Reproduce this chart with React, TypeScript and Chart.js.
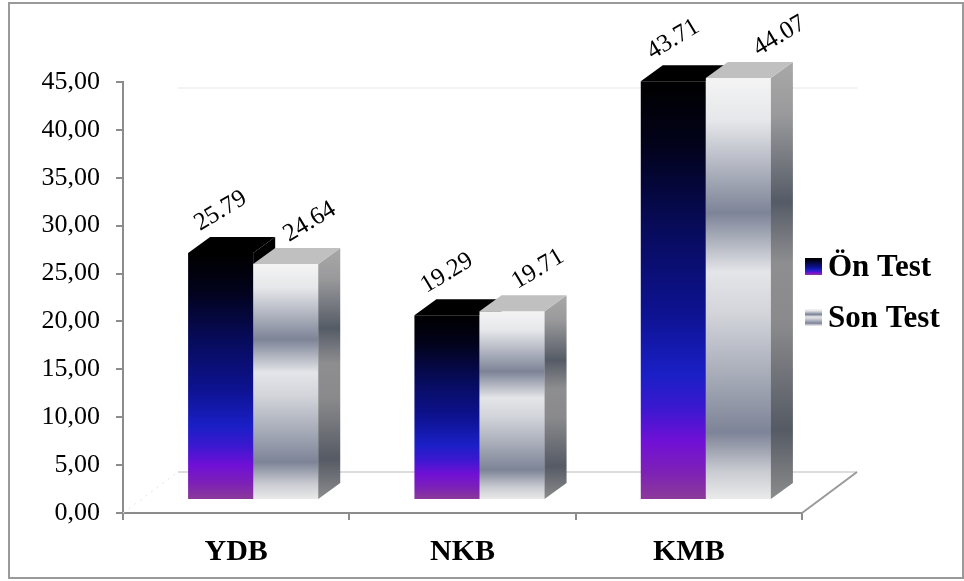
import React, { useEffect, useRef } from "react";
import { Chart, registerables } from "chart.js";

Chart.register(...registerables);

// ---------- data ----------
const categories = ["YDB", "NKB", "KMB"];
const seriesNames = ["Ön Test", "Son Test"];
const onTestValues = [25.79, 19.29, 43.71];
const sonTestValues = [24.64, 19.71, 44.07];
const yMin = 0;
const yMax = 45;
const yStep = 5;

// ---------- styling constants ----------
const FONT = '"Liberation Serif", "Times New Roman", serif';
const BAR_OFFSET_X = 17;
const BAR_OFFSET_Y = -13;
const DEPTH_X = 22;
const DEPTH_Y = 16;
const FLOOR_DX = 55;
const FLOOR_DY = 41;
const AXIS_COLOR = "#8c8c8c";
const LABEL_NUDGE_X = [
  [0, 0, 0],
  [24, 26, 41],
];
const LABEL_RISE = 42;

type Stop = [number, string];
const onFrontStops: Stop[] = [
  [0, "#000000"],
  [0.15, "#02021a"],
  [0.35, "#070b5a"],
  [0.55, "#0d1290"],
  [0.7, "#1a1fc6"],
  [0.78, "#3a18cf"],
  [0.86, "#7010d6"],
  [0.93, "#7c20b8"],
  [1, "#8c3c98"],
];
const sonFrontStops: Stop[] = [
  [0, "#f4f4f4"],
  [0.1, "#e6e7ea"],
  [0.32, "#7d8497"],
  [0.46, "#e4e5e8"],
  [0.56, "#d2d4da"],
  [0.7, "#a8adb9"],
  [0.84, "#7d8497"],
  [0.93, "#c8cad0"],
  [1, "#ececec"],
];
const sonSideStops: Stop[] = [
  [0, "#a8a8a8"],
  [0.12, "#9a9a9c"],
  [0.32, "#555b66"],
  [0.46, "#8e8e90"],
  [0.6, "#8a8a8c"],
  [0.84, "#555a64"],
  [1, "#8c8c8c"],
];

function grad(ctx: CanvasRenderingContext2D, y0: number, y1: number, stops: Stop[]) {
  const g = ctx.createLinearGradient(0, y0, 0, y1);
  stops.forEach(([o, c]) => g.addColorStop(o, c));
  return g;
}

function frontColor(stops: Stop[]) {
  return (c: any) => {
    const chart = c.chart;
    const ys = chart.scales && chart.scales.y;
    if (c.type !== "data" || !ys) return stops[0][1];
    const v = c.dataset.data[c.dataIndex];
    const top = ys.getPixelForValue(v);
    const base = ys.getPixelForValue(0);
    if (!isFinite(top) || !isFinite(base) || top === base) return stops[0][1];
    return grad(chart.ctx, top, base, stops);
  };
}

function drawDepthFaces(ctx: CanvasRenderingContext2D, el: any, di: number) {
  const { x, y, base, width } = el.getProps(["x", "y", "base", "width"], true);
  const l = x - width / 2;
  const r = x + width / 2;
  // side face
  ctx.beginPath();
  ctx.moveTo(r, y);
  ctx.lineTo(r + DEPTH_X, y - DEPTH_Y);
  ctx.lineTo(r + DEPTH_X, base - DEPTH_Y);
  ctx.lineTo(r, base);
  ctx.closePath();
  ctx.fillStyle = di === 0 ? "#000000" : grad(ctx, y - DEPTH_Y, base, sonSideStops);
  ctx.fill();
  // top face
  ctx.beginPath();
  ctx.moveTo(l, y);
  ctx.lineTo(r, y);
  ctx.lineTo(r + DEPTH_X, y - DEPTH_Y);
  ctx.lineTo(l + DEPTH_X, y - DEPTH_Y);
  ctx.closePath();
  ctx.fillStyle = di === 0 ? "#000000" : "#c0c0c0";
  ctx.fill();
}

const bar3dPlugin = {
  id: "bar3d",
  beforeDatasetsDraw(chart: any) {
    const { ctx, chartArea: a } = chart;
    ctx.save();
    // faint top line (back wall)
    ctx.strokeStyle = "#efefef";
    ctx.lineWidth = 1.5;
    ctx.beginPath();
    ctx.moveTo(a.left + FLOOR_DX, a.top + 6);
    ctx.lineTo(a.right + FLOOR_DX, a.top + 6);
    ctx.stroke();
    // floor back edge
    ctx.strokeStyle = "#d2d2d2";
    ctx.lineWidth = 1.5;
    ctx.beginPath();
    ctx.moveTo(a.left + FLOOR_DX, a.bottom - FLOOR_DY);
    ctx.lineTo(a.right + FLOOR_DX, a.bottom - FLOOR_DY);
    ctx.stroke();
    // floor right edge
    ctx.strokeStyle = "#9a9a9a";
    ctx.lineWidth = 2;
    ctx.beginPath();
    ctx.moveTo(a.right, a.bottom);
    ctx.lineTo(a.right + FLOOR_DX, a.bottom - FLOOR_DY);
    ctx.stroke();
    // floor left edge (faint)
    ctx.strokeStyle = "#e4e4e4";
    ctx.lineWidth = 1;
    ctx.setLineDash([2, 5]);
    ctx.beginPath();
    ctx.moveTo(a.left, a.bottom);
    ctx.lineTo(a.left + FLOOR_DX, a.bottom - FLOOR_DY);
    ctx.stroke();
    ctx.restore();

    ctx.save();
    ctx.translate(BAR_OFFSET_X, BAR_OFFSET_Y);
  },
  afterDatasetsDraw(chart: any) {
    const { ctx } = chart;
    const onMeta = chart.getDatasetMeta(0);
    const sonMeta = chart.getDatasetMeta(1);
    // back-most: Ön Test depth faces, then re-draw Son Test on top of them
    onMeta.data.forEach((el: any) => drawDepthFaces(ctx, el, 0));
    sonMeta.data.forEach((el: any) => {
      el.draw(ctx);
      drawDepthFaces(ctx, el, 1);
    });

    // value labels
    chart.data.datasets.forEach((ds: any, di: number) => {
      const meta = chart.getDatasetMeta(di);
      meta.data.forEach((el: any, i: number) => {
        const { x, y } = el.getProps(["x", "y"], true);
        ctx.save();
        ctx.translate(x + LABEL_NUDGE_X[di][i], y - LABEL_RISE);
        ctx.rotate((-31 * Math.PI) / 180);
        ctx.font = `25px ${FONT}`;
        ctx.fillStyle = "#000";
        ctx.textAlign = "center";
        ctx.textBaseline = "middle";
        ctx.fillText(Number(ds.data[i]).toFixed(2), 0, 0);
        ctx.restore();
      });
    });
    ctx.restore();
  },
  afterDraw(chart: any) {
    const { ctx, chartArea: a } = chart;
    ctx.save();
    // legend
    const boxX = a.right + 3;
    const firstTop = a.top + 176;
    const gap = 51;
    const stopsList = [onFrontStops, sonFrontStops];
    seriesNames.forEach((name, i) => {
      const top = firstTop + i * gap;
      ctx.fillStyle = grad(ctx, top, top + 17, stopsList[i]);
      ctx.fillRect(boxX, top, 17, 17);
      ctx.font = `bold 31px ${FONT}`;
      ctx.fillStyle = "#000";
      ctx.textAlign = "left";
      ctx.textBaseline = "alphabetic";
      ctx.fillText(name, boxX + 23, top + 18);
    });
    // outer border
    ctx.strokeStyle = "#9a9a9a";
    ctx.lineWidth = 2;
    ctx.strokeRect(9, 3, 954, 575);
    ctx.restore();
  },
};

export default function App() {
  const canvasRef = useRef<HTMLCanvasElement | null>(null);

  useEffect(() => {
    if (!canvasRef.current) return;
    const chart = new Chart(canvasRef.current, {
      type: "bar",
      data: {
        labels: categories,
        datasets: [
          {
            label: seriesNames[0],
            data: onTestValues,
            backgroundColor: frontColor(onFrontStops) as any,
            borderWidth: 0,
            clip: false as any,
          },
          {
            label: seriesNames[1],
            data: sonTestValues,
            backgroundColor: frontColor(sonFrontStops) as any,
            borderWidth: 0,
            clip: false as any,
          },
        ],
      },
      options: {
        responsive: false,
        animation: false,
        devicePixelRatio: 1,
        categoryPercentage: 0.575,
        barPercentage: 1,
        layout: { padding: { top: 82, right: 162, bottom: 0, left: 0 } },
        plugins: {
          legend: { display: false },
          tooltip: { enabled: false },
          title: { display: false },
        },
        scales: {
          x: {
            offset: true,
            grid: {
              offset: true,
              drawOnChartArea: false,
              drawTicks: true,
              tickLength: 7,
              color: AXIS_COLOR,
              lineWidth: 2,
            },
            border: { display: true, color: AXIS_COLOR, width: 2 },
            ticks: {
              color: "#000",
              padding: 14,
              font: { family: FONT, size: 30, weight: "bold" },
            },
            afterFit: (s: any) => {
              s.height = 68;
            },
          },
          y: {
            min: yMin,
            max: yMax,
            grid: {
              drawOnChartArea: false,
              drawTicks: true,
              tickLength: 7,
              color: AXIS_COLOR,
              lineWidth: 2,
            },
            border: { display: true, color: AXIS_COLOR, width: 2 },
            ticks: {
              stepSize: yStep,
              color: "#000",
              padding: 16,
              font: { family: FONT, size: 26 },
              callback: (v: any) => Number(v).toFixed(2).replace(".", ","),
            },
            afterFit: (s: any) => {
              s.width = 123;
            },
          },
        },
      } as any,
      plugins: [bar3dPlugin],
    });
    return () => chart.destroy();
  }, []);

  return (
    <div style={{ position: "absolute", left: 0, top: 0, width: 964, height: 581, background: "#fff" }}>
      <canvas ref={canvasRef} width={964} height={581} style={{ display: "block" }} />
    </div>
  );
}
